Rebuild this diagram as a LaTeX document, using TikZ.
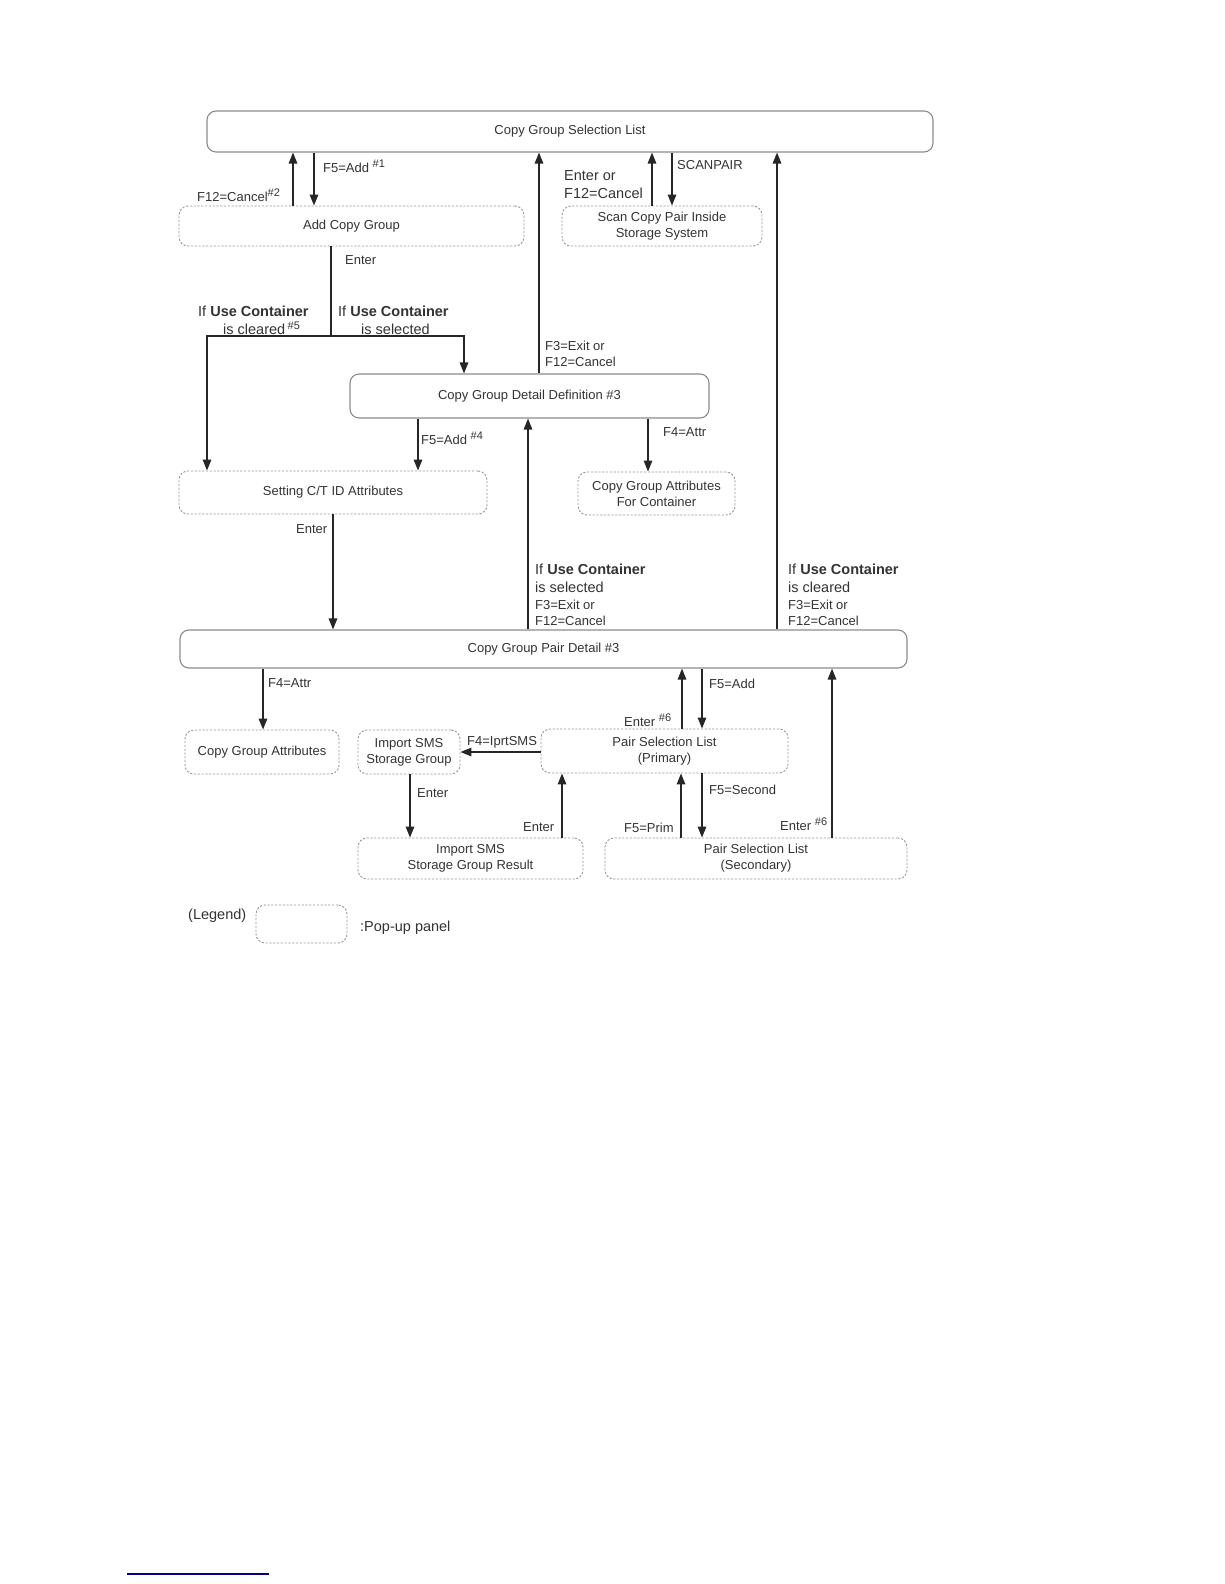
\documentclass[tikz,border=0pt]{standalone}
\usepackage{fontspec}
\setmainfont{Liberation Sans}
\usetikzlibrary{arrows.meta}
\newcommand{\supmark}[1]{\raisebox{5pt}{\fontsize{11}{11}\selectfont\##1}}
\begin{document}
\begin{tikzpicture}[x=1pt,y=-1pt,
  mainbox/.style={draw=black!45, line width=1.1pt, rounded corners=9pt, fill=white,
    text=black!80, font=\fontsize{13}{16}\selectfont, align=center, inner sep=0pt},
  popbox/.style={mainbox, draw=black!40, line width=0.9pt, dash pattern=on 2.2pt off 1.6pt},
  arr/.style={-{Triangle[length=11pt,width=8.5pt]}, line width=1.4pt, draw=black!85},
  plain/.style={line width=1.4pt, draw=black!85},
  lbl/.style={anchor=base west, inner sep=0pt, text=black!80, font=\fontsize{13}{16}\selectfont},
  biglbl/.style={lbl, font=\fontsize{14.5}{17}\selectfont}]
\fill[white] (0,0) rectangle (1224,1584);
\useasboundingbox (0,0) rectangle (1224,1584);

% boxes
\node[mainbox, minimum width=726, minimum height=41] (csl) at (570,131.5) {Copy Group Selection List};
\node[popbox, minimum width=345, minimum height=40] (acg) at (351.5,226) {Add Copy Group};
\node[popbox, minimum width=200, minimum height=40] (scan) at (662,226) {Scan Copy Pair Inside\\Storage System};
\node[mainbox, minimum width=359, minimum height=44] (cgdd) at (529.5,396) {Copy Group Detail Definition \#3};
\node[popbox, minimum width=308, minimum height=43] (setct) at (333,492.5) {Setting C/T ID Attributes};
\node[popbox, minimum width=157, minimum height=43] (cgafc) at (656.5,493.5) {Copy Group Attributes\\For Container};
\node[mainbox, minimum width=727, minimum height=38] (cgpd) at (543.5,649) {Copy Group Pair Detail \#3};
\node[popbox, minimum width=154, minimum height=44] (cga) at (262,752) {Copy Group Attributes};
\node[popbox, minimum width=102, minimum height=44] (isg) at (409,752) {Import SMS\\Storage Group};
\node[popbox, minimum width=247, minimum height=44] (psp) at (664.5,751) {Pair Selection List\\(Primary)};
\node[popbox, minimum width=225, minimum height=41] (isgr) at (470.5,858.5) {Import SMS\\Storage Group Result};
\node[popbox, minimum width=302, minimum height=41] (pss) at (756,858.5) {Pair Selection List\\(Secondary)};
\node[popbox, minimum width=91, minimum height=38] (legbox) at (301.5,924) {};

% connectors
\draw[arr] (acg.north -| 293,0) -- (csl.south -| 293,0);
\draw[arr] (csl.south -| 314,0) -- (acg.north -| 314,0);
\draw[arr] (scan.north -| 652,0) -- (csl.south -| 652,0);
\draw[arr] (csl.south -| 672,0) -- (scan.north -| 672,0);
\draw[arr] (cgdd.north -| 539,0) -- (csl.south -| 539,0);
\draw[arr] (cgpd.north -| 777,0) -- (csl.south -| 777,0);
\draw[arr] (cgpd.north -| 528,0) -- (cgdd.south -| 528,0);
\draw[arr] (cgdd.south -| 418,0) -- (setct.north -| 418,0);
\draw[arr] (cgdd.south -| 648,0) -- (cgafc.north -| 648,0);
\draw[arr] (setct.south -| 333,0) -- (cgpd.north -| 333,0);
\coordinate (split) at (331,336);
\coordinate (jl) at (207,336);
\coordinate (jr) at (464,336);
\draw[plain] (acg.south -| split) -- (split);
\draw[arr] (split) -- (jl) -- (setct.north -| jl);
\draw[arr] (split) -- (jr) -- (cgdd.north -| jr);
\draw[arr] (cgpd.south -| 263,0) -- (cga.north -| 263,0);
\draw[arr] (psp.west |- 0,752) -- (isg.east |- 0,752);
\draw[arr] (isg.south -| 410,0) -- (isgr.north -| 410,0);
\draw[arr] (isgr.north -| 562,0) -- (psp.south -| 562,0);
\draw[arr] (psp.north -| 682,0) -- (cgpd.south -| 682,0);
\draw[arr] (cgpd.south -| 702,0) -- (psp.north -| 702,0);
\draw[arr] (pss.north -| 681,0) -- (psp.south -| 681,0);
\draw[arr] (psp.south -| 702,0) -- (pss.north -| 702,0);
\draw[arr] (pss.north -| 832,0) -- (cgpd.south -| 832,0);

% labels
\node[lbl] (l1) at (197,201) {F12=Cancel\supmark{2}};
\node[lbl] (l2) at (323,172) {F5=Add \supmark{1}};
\node[lbl] (l3) at (345,264) {Enter};
\node[biglbl] (l4a) at (198,316) {If \textbf{Use Container}};
\node[biglbl] (l4b) at (223,334) {is cleared\,\supmark{5}};
\node[biglbl] (l5a) at (338,316) {If \textbf{Use Container}};
\node[biglbl] (l5b) at (361,334) {is selected};
\node[biglbl] (l6a) at (564,180.5) {Enter or};
\node[biglbl] (l6b) at (564,198) {F12=Cancel};
\node[lbl] (l7) at (677,169) {SCANPAIR};
\node[lbl] (l8a) at (545,350) {F3=Exit or};
\node[lbl] (l8b) at (545,366) {F12=Cancel};
\node[lbl] (l9) at (421,444) {F5=Add \supmark{4}};
\node[lbl] (l10) at (663,436) {F4=Attr};
\node[lbl] (l11) at (296,533) {Enter};
\node[biglbl] (l12a) at (535,574) {If \textbf{Use Container}};
\node[biglbl] (l12b) at (535,592) {is selected};
\node[lbl] (l12c) at (535,609) {F3=Exit or};
\node[lbl] (l12d) at (535,625) {F12=Cancel};
\node[biglbl] (l13a) at (788,574) {If \textbf{Use Container}};
\node[biglbl] (l13b) at (788,592) {is cleared};
\node[lbl] (l13c) at (788,609) {F3=Exit or};
\node[lbl] (l13d) at (788,625) {F12=Cancel};
\node[lbl] (l14) at (268,687) {F4=Attr};
\node[lbl] (l15) at (467,745) {F4=IprtSMS};
\node[lbl] (l16) at (417,797) {Enter};
\node[lbl] (l17) at (523,831) {Enter};
\node[lbl] (l18) at (624,726) {Enter \supmark{6}};
\node[lbl] (l19) at (709,688) {F5=Add};
\node[lbl] (l20) at (709,794) {F5=Second};
\node[lbl] (l21) at (624,832) {F5=Prim};
\node[lbl] (l22) at (780,830) {Enter \supmark{6}};
\node[biglbl] (l23) at (188,919) {(Legend)};
\node[biglbl] (l24) at (360,931) {:Pop-up panel};

% footnote rule
\coordinate (ra) at (127,1574);
\coordinate (rb) at (269,1574);
\draw[blue!55!black, line width=1.2pt] (ra) -- (rb);
\end{tikzpicture}
\end{document}
